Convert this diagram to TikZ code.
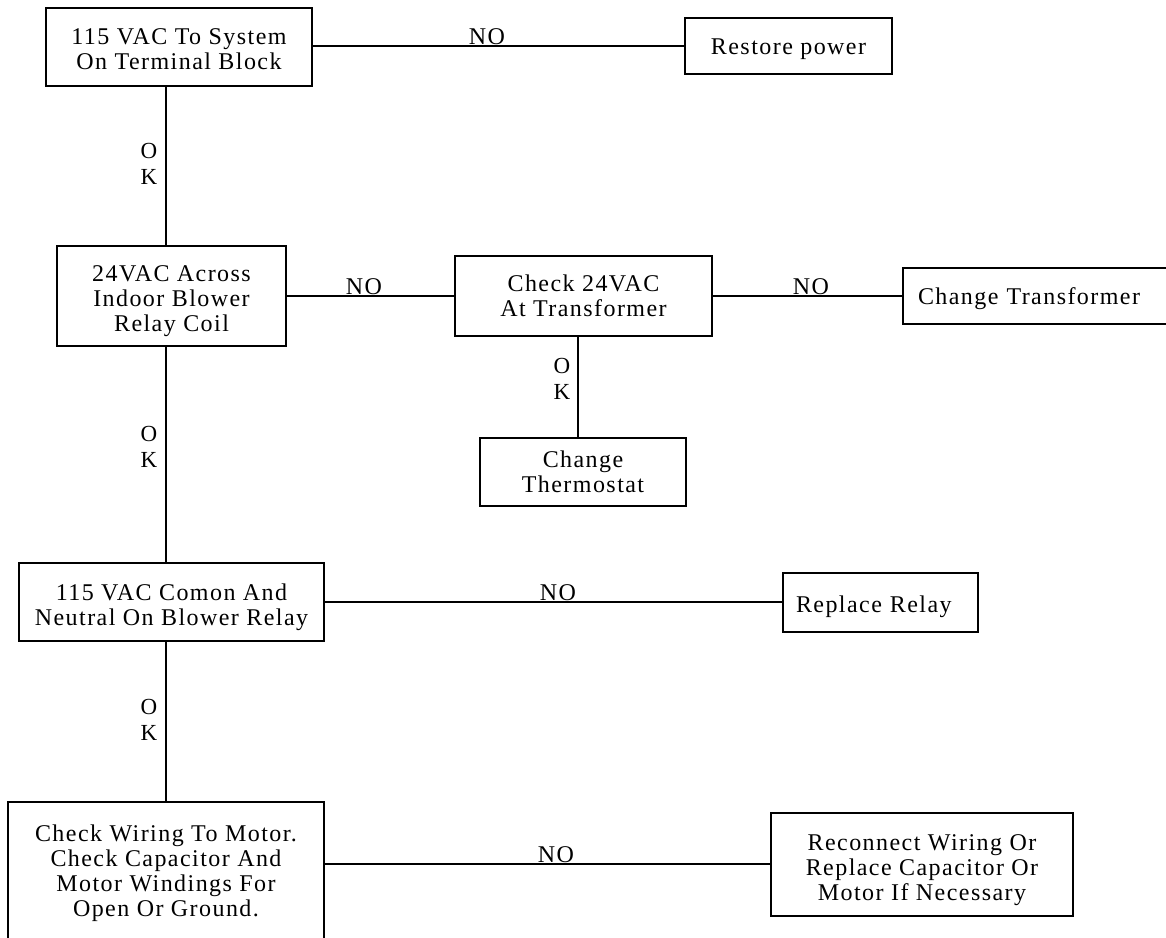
\documentclass[tikz,border=0pt]{standalone}
\usepackage{fontspec}
\setmainfont{Liberation Serif}[LetterSpace=6]
\newcommand\dntxt[2]{\raisebox{0pt}[\dimexpr\height+#1\relax][\depth]{\begin{tabular}{@{}c@{}}#2\end{tabular}}}
\newcommand\tabtxt[1]{\begin{tabular}{@{}c@{}}#1\end{tabular}}
\begin{document}
\begin{tikzpicture}[x=1pt,y=-1pt,
  every node/.style={font=\fontsize{24}{25}\selectfont},
  box/.style={draw=black, line width=2pt, inner sep=0pt, align=center},
  leftbox/.style={draw=black, line width=2pt, inner ysep=0pt, align=left},
  wire/.style={line width=2pt},
  lbl/.style={inner sep=0pt, font=\fontsize{23}{26}\selectfont, align=center}]
\useasboundingbox (0,0) rectangle (1166,937);
\clip (0,0) rectangle (1166,937);
\fill[white] (0,0) rectangle (1166,937);
% boxes
\node[box, minimum width=266, minimum height=78] (b1) at (179,47) {\dntxt{10pt}{115 VAC To System\\On Terminal Block}};
\node[box, minimum width=207, minimum height=56] (rp) at (788.5,46) {\dntxt{7pt}{Restore power}};
\node[box, minimum width=229, minimum height=100] (b2) at (171.5,296) {\dntxt{11pt}{24VAC Across\\Indoor Blower\\Relay Coil}};
\node[box, minimum width=257, minimum height=80] (b3) at (583.5,296) {Check 24VAC\\At Transformer};
\node[leftbox, minimum height=56, inner xsep=15pt, text width=257] (ct) at (1046.5,296) {\dntxt{7pt}{Change Transformer}};
\node[box, minimum width=206, minimum height=68] (th) at (583,472) {Change\\Thermostat};
\node[box, minimum width=305, minimum height=78] (b4) at (171.5,602) {\dntxt{12pt}{115 VAC Comon And\\Neutral On Blower Relay}};
\node[leftbox, minimum height=59, inner xsep=13pt, text width=169] (rr) at (880.5,602) {\dntxt{10pt}{Replace Relay}};
\node[box, minimum width=316, minimum height=143] (b5) at (166,873.5) {\tabtxt{Check Wiring To Motor.\\Check Capacitor And\\Motor Windings For\\Open Or Ground.}};
\node[box, minimum width=302, minimum height=103] (b6) at (922,864) {\dntxt{12pt}{Reconnect Wiring Or\\Replace Capacitor Or\\Motor If Necessary}};
% spines
\coordinate (sp) at (166,0);
\coordinate (sp2) at (578,0);
% connectors
\draw[wire] (rp.west -| b1.east) -- (rp.west);
\draw[wire] (b2.east) -- (b3.west);
\draw[wire] (b3.east) -- (ct.west);
\draw[wire] (rr.west -| b4.east) -- (rr.west);
\draw[wire] (b6.west -| b5.east) -- (b6.west);
\draw[wire] (b1.south -| sp) -- (b2.north -| sp);
\draw[wire] (b2.south -| sp) -- (b4.north -| sp);
\draw[wire] (b4.south -| sp) -- (b5.north -| sp);
\draw[wire] (b3.south -| sp2) -- (th.north -| sp2);
% labels
\node[inner sep=0pt, anchor=base] (no1) at (487,44.5) {NO};
\node[inner sep=0pt, anchor=base] (no2) at (364,294.5) {NO};
\node[inner sep=0pt, anchor=base] (no3) at (811,294.5) {NO};
\node[inner sep=0pt, anchor=base] (no4) at (558,600.5) {NO};
\node[inner sep=0pt, anchor=base] (no5) at (556,862.5) {NO};
\node[lbl] (ok1) at (149,163.5) {O\\K};
\node[lbl] (ok2) at (149,447) {O\\K};
\node[lbl] (ok3) at (149,720) {O\\K};
\node[lbl] (ok4) at (562,378.5) {O\\K};
\end{tikzpicture}
\end{document}
